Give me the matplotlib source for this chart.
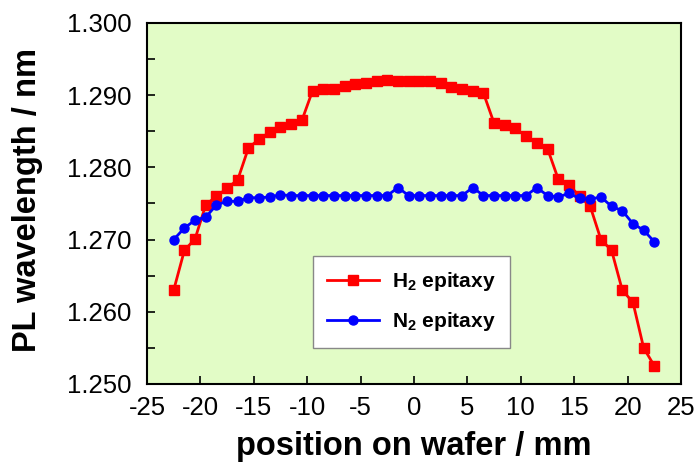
import matplotlib
matplotlib.use("Agg")
import matplotlib.pyplot as plt
from matplotlib.ticker import MultipleLocator, FormatStrFormatter

# positions on wafer (mm)
position = [-22.5, -21.5, -20.5, -19.5, -18.5, -17.5, -16.5, -15.5, -14.5, -13.5,
            -12.5, -11.5, -10.5, -9.5, -8.5, -7.5, -6.5, -5.5, -4.5, -3.5,
            -2.5, -1.5, -0.5, 0.5, 1.5, 2.5, 3.5, 4.5, 5.5, 6.5,
            7.5, 8.5, 9.5, 10.5, 11.5, 12.5, 13.5, 14.5, 15.5, 16.5,
            17.5, 18.5, 19.5, 20.5, 21.5, 22.5]

h2_epitaxy = [1.2630, 1.2685, 1.2701, 1.2748, 1.2760, 1.2771, 1.2783, 1.2827, 1.2839, 1.2849,
              1.2856, 1.2860, 1.2865, 1.2906, 1.2909, 1.2909, 1.2913, 1.2916, 1.2917, 1.2920,
              1.2921, 1.2920, 1.2920, 1.2920, 1.2919, 1.2917, 1.2912, 1.2909, 1.2906, 1.2903,
              1.2861, 1.2859, 1.2854, 1.2843, 1.2834, 1.2826, 1.2784, 1.2776, 1.2760, 1.2746,
              1.2700, 1.2685, 1.2630, 1.2613, 1.2550, 1.2525]

n2_epitaxy = [1.2700, 1.2716, 1.2727, 1.2731, 1.2748, 1.2753, 1.2753, 1.2758, 1.2758, 1.2759,
              1.2762, 1.2761, 1.2761, 1.2761, 1.2761, 1.2761, 1.2761, 1.2761, 1.2761, 1.2761,
              1.2761, 1.2772, 1.2761, 1.2761, 1.2761, 1.2761, 1.2761, 1.2761, 1.2772, 1.2761,
              1.2761, 1.2761, 1.2761, 1.2761, 1.2772, 1.2761, 1.2759, 1.2764, 1.2757, 1.2756,
              1.2759, 1.2746, 1.2740, 1.2722, 1.2713, 1.2697]

plt.rcParams["font.family"] = ["Liberation Sans", "DejaVu Sans"]
plt.rcParams["mathtext.fontset"] = "custom"
plt.rcParams["mathtext.rm"] = "Liberation Sans:bold"
plt.rcParams["mathtext.default"] = "rm"
plt.rcParams["axes.unicode_minus"] = False

fig = plt.figure(figsize=(6.94, 4.73), dpi=100)
ax = fig.add_axes([0.2118, 0.1882, 0.7695, 0.7632])
ax.set_facecolor("#E2FCC6")

ax.plot(position, h2_epitaxy, color="#FF0000", linewidth=2, marker="s",
        markersize=7, label="H$_2$ epitaxy")
ax.plot(position, n2_epitaxy, color="#0000FF", linewidth=2, marker="o",
        markersize=6.5, label="N$_2$ epitaxy")

ax.set_xlim(-25, 25)
ax.set_ylim(1.250, 1.300)
ax.xaxis.set_major_locator(MultipleLocator(5))
ax.yaxis.set_major_locator(MultipleLocator(0.01))
ax.yaxis.set_minor_locator(MultipleLocator(0.005))
ax.yaxis.set_major_formatter(FormatStrFormatter("%.3f"))

ax.tick_params(axis="both", which="both", direction="in", length=6, width=1.2,
               top=False, right=False, labelsize=18.5)
ax.tick_params(axis="x", pad=9)
ax.tick_params(axis="y", pad=11)
for spine in ax.spines.values():
    spine.set_linewidth(1.5)

ax.set_xlabel("position on wafer / mm", fontsize=23.5, fontweight="bold")
ax.set_ylabel("PL wavelength / nm", fontsize=23.5, fontweight="bold")
ax.xaxis.set_label_coords(0.5, -0.13)
ax.yaxis.set_label_coords(-0.195, 0.51)

leg = ax.legend(loc="upper left", bbox_to_anchor=(0.310, 0.355), borderaxespad=0,
                prop={"weight": "bold", "size": 15}, fancybox=False,
                edgecolor="#888888", framealpha=1, handlelength=2.5,
                handletextpad=0.6, borderpad=0.7, labelspacing=0.8)
leg.get_frame().set_linewidth(1.0)

fig.savefig("out.png", dpi=100)
